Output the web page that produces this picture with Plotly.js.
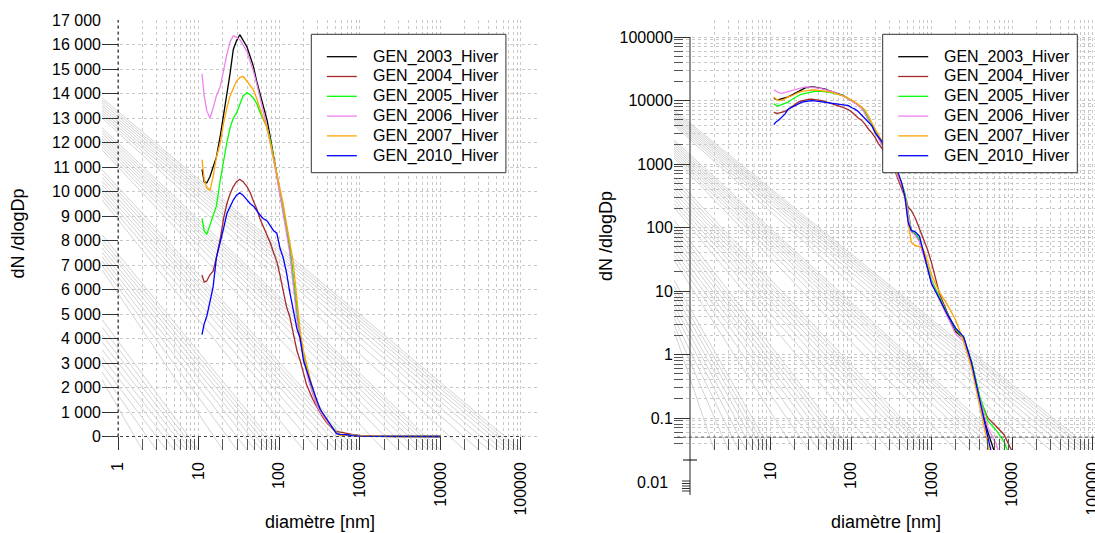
<!DOCTYPE html>
<html><head><meta charset="utf-8">
<script src="https://cdn.plot.ly/plotly-3.0.1.min.js"></script>
<style>html,body{margin:0;padding:0;background:#fff}#chart{width:1095px;height:533px}</style>
</head><body><div id="chart"></div>
<script>
// ---------- data ----------
const seriesNames = ['GEN_2003_Hiver','GEN_2004_Hiver','GEN_2005_Hiver','GEN_2006_Hiver','GEN_2007_Hiver','GEN_2010_Hiver'];
const seriesColors = ['#000000','#a52a2a','#00ff00','#ee82ee','#ffa500','#0000ff'];
const diameterNm = [11.0,11.7,12.6,13.8,15.1,16.6,18.6,20.4,22.4,24.5,26.9,29.5,32.4,35.5,39.8,43.7,47.9,52.5,57.5,63.1,70.8,77.6,85.1,93.3,102,112,123,135,148,166,182,200,219,240,263,295,324,355,389,427,468,513,562,631,708,794,891,1000,1259,1585,1995,2512,3162,3981,5012,6310,7943,10000];
const gen2003 = [10900,10400,10350,10600,11000,11400,12300,13100,13900,14800,15800,16150,16400,16200,15900,15500,15100,14500,14000,13500,12900,12200,11400,10700,10000,9200,8500,7700,6500,5000,4000,3300,2700,2200,1750,1300,1050,800,620,480,330,170,88,78,62,39,23,14,7.5,4.0,2.3,1.8,0.7,0.2,0.06,0.025,0.01,0.005];
const gen2004 = [6600,6300,6350,6600,6750,7300,8100,8900,9500,9900,10200,10400,10500,10400,10200,9950,9600,9300,8900,8600,8200,7900,7500,7150,6600,5900,5300,4900,4300,3500,3100,2600,2100,1800,1500,1200,950,750,560,420,300,210,185,140,95,65,45,28,9,4.5,2.4,1.8,0.75,0.2,0.1,0.075,0.055,0.03];
const gen2005 = [8900,8400,8250,8600,9000,9400,10500,11300,12000,12600,13000,13200,13600,13900,14030,13950,13800,13600,13250,12950,12600,12100,11400,10750,10000,9200,8500,7800,6600,5100,4100,3400,2800,2300,1800,1350,1080,820,640,500,340,170,90,80,65,40,24,15,8,4.3,2.5,1.8,0.75,0.22,0.09,0.065,0.043,0.02];
const gen2006 = [14800,13900,13300,13000,13400,13900,14300,15000,15600,16100,16350,16300,16200,16000,15700,15300,14900,14400,13900,13300,12600,12000,11300,10600,9900,9100,8300,7500,6300,4800,3900,3200,2600,2100,1700,1250,1000,780,600,460,320,160,85,75,60,37,22,14,7.2,3.8,2.1,1.6,0.65,0.2,0.07,0.04,0.015,0.006];
const gen2007 = [11300,10500,10150,10050,10600,11400,12000,12800,13400,13900,14200,14500,14650,14700,14500,14300,14150,13800,13400,13000,12600,12000,11400,10800,10200,9500,8700,8000,7200,5600,4300,3500,2900,2400,1900,1400,1100,850,650,500,300,120,58,52,50,45,30,18,9.5,6,3.5,1.6,0.6,0.15,0.04,0.01,0.004,0.002];
const gen2010 = [4160,4600,4900,5500,6100,7300,7900,8500,9100,9400,9650,9850,9950,9850,9650,9500,9400,9200,9050,8900,8800,8600,8400,8300,7700,7300,6700,5900,5200,4400,4000,3100,2700,2300,1900,1450,1100,900,700,500,300,120,90,85,73,40,22,13,7.5,4.2,2.6,1.9,0.72,0.18,0.05,0.014,0.006,0.003];
const allSeries = [gen2003, gen2004, gen2005, gen2006, gen2007, gen2010];

const xTickVals = [1,10,100,1000,10000,100000];
const xTickText = ['1','10','100','1000','10000','100000'];
const xTickValsRight = [10,100,1000,10000,100000];
const xTickTextRight = ['10','100','1000','10000','100000'];
const yLinTickVals = [0,1000,2000,3000,4000,5000,6000,7000,8000,9000,10000,11000,12000,13000,14000,15000,16000,17000];
const yLinTickText = ['0','1 000','2 000','3 000','4 000','5 000','6 000','7 000','8 000','9 000','10 000','11 000','12 000','13 000','14 000','15 000','16 000','17 000'];
const yLogTickVals = [0.1,1,10,100,1000,10000,100000];
const yLogTickText = ['0.1','1','10','100','1000','10000','100000'];

// grey diagonal lines: start height on the left border, end diameter on the bottom border
const grayLinStartY = [13820,13720,13620,13515,13415,13310,13210,13110,13005,12600,12490,12375,12260,12150,12040,11925,11815,11700,10890,10735,10580,10425,10275,10120,9970,9815,9660,8235,8055,7880,7700,7520,7345,7165,6985,6810,4770,4465,4160,3855,3545,3240,2935,2630,2325];
const grayLinEndX = [100000,90000,80000,70000,60000,50000,40000,30000,20000,10000,9000,8000,7000,6000,5000,4000,3000,2000,1000,900,800,700,600,500,400,300,200,100,90,80,70,60,50,40,30,20,10,9,8,7,6,5,4,3,2];
const grayLogStartY = [7080,6620,6180,5780,5400,5040,4710,4400,4110,2390,2200,2030,1870,1720,1590,1460,1350,1240,624,545,475,415,362,316,276,241,210,131,109,91,76,64,53,44,37,31,14.9,11.9,9.5,7.5,6.0,4.8,3.8,3.0,2.4];
const grayLogEndX = [100000,90000,80000,70000,60000,50000,40000,30000,20000,10000,9000,8000,7000,6000,5000,4000,3000,2000,1000,900,800,700,600,500,400,300,200,100,90,80,70,60,50,40,30,20,10,9,8,7,6,5,4,3,2];

// ---------- layout geometry ----------
const W = 1095, H = 533;
const FONT = 'Liberation Sans, Arial, Helvetica, sans-serif';
const yDom = [1 - 450/H, 1 - 20/H];
const ax1 = {type:'log', domain:[102/W, 537/W], range:[-0.2, 5.2]};
const ay1 = {type:'linear', domain:yDom, range:[-550, 17000]};
const ax2 = {type:'log', domain:[673.9/W, 1], range:[-0.2, 5.031]};
const ay2 = {type:'log', domain:yDom, range:[-1.504, 5.268]};

function minorLog(kmin, kmax){ const a=[]; for(let k=kmin;k<=kmax;k++){ for(let m=2;m<=9;m++){ a.push(m*Math.pow(10,k)); } } return a; }
function toPaper(ax, v){ const l = ax.type==='log' ? Math.log10(v) : v; return ax.domain[0] + (l-ax.range[0])/(ax.range[1]-ax.range[0])*(ax.domain[1]-ax.domain[0]); }

const gridCol = '#c8c8c8';
const tickCol = '#333333';
function xAxisCfg(ax, tv, tt, anchor){
  return Object.assign({}, ax, {anchor:anchor, tickmode:'array', tickvals:tv, ticktext:tt, tickangle:-90,
    ticks:'inside', ticklen:13, tickcolor:tickCol, tickwidth:1, showline:false, zeroline:false,
    showgrid:true, gridcolor:gridCol, griddash:'dot', gridwidth:1,
    tickfont:{family:FONT, size:16, color:'#000'}, ticklabelstandoff:8, ticklabeloverflow:'allow',
    minor:{tickmode:'array', tickvals:minorLog(0,4), ticks:'inside', ticklen:11, tickcolor:'#555', showgrid:true, gridcolor:gridCol, griddash:'dot', gridwidth:1},
    fixedrange:true});
}

// ---------- traces ----------
const traces = [];
function grayTrace(startY, endX, xa, ya, xax, yax){
  const xs=[], ys=[];
  const xLeft = Math.pow(10, xa.range[0]);
  const yBottom = ya.type==='log' ? Math.pow(10, ya.range[0]) : ya.range[0];
  for(let i=0;i<startY.length;i++){ xs.push(xLeft, endX[i], null); ys.push(startY[i], yBottom, null); }
  return {x:xs, y:ys, xaxis:xax, yaxis:yax, mode:'lines', line:{color:'#d3d3d3', width:1}, hoverinfo:'skip', showlegend:false};
}
traces.push(grayTrace(grayLinStartY, grayLinEndX, ax1, ay1, 'x', 'y'));
traces.push(grayTrace(grayLogStartY, grayLogEndX, ax2, ay2, 'x2', 'y2'));
for(let i=0;i<seriesNames.length;i++){
  traces.push({x:diameterNm, y:allSeries[i], name:seriesNames[i], xaxis:'x', yaxis:'y', mode:'lines',
    line:{color:seriesColors[i], width:1.3}, showlegend:false});
}
for(let i=0;i<seriesNames.length;i++){
  traces.push({x:diameterNm, y:allSeries[i], name:seriesNames[i], xaxis:'x2', yaxis:'y2', mode:'lines',
    line:{color:seriesColors[i], width:1.3}, showlegend:false});
}

// ---------- axis decorations (drawn at x=1 / y=0 like the original) ----------
const shapes = [];
function vline(ax, xv, y0p, y1p, dash, col){ const xp = toPaper(ax,xv); shapes.push({type:'line', xref:'paper', yref:'paper', x0:xp, x1:xp, y0:y0p, y1:y1p, line:{color:col, width:1, dash:dash}}); }
function hline(x0p, x1p, yp, dash, col, w){ shapes.push({type:'line', xref:'paper', yref:'paper', x0:x0p, x1:x1p, y0:yp, y1:yp, line:{color:col, width:w||1, dash:dash}}); }
// left panel
vline(ax1, 1, toPaper(ay1,0), toPaper(ay1,17000), 'dot', '#000');
hline(108/W, 523/W, toPaper(ay1,0), 'dot', '#444');
// right panel
vline(ax2, 1, 1-495/H, toPaper(ay2,100000), 'solid', '#222');
hline(677/W, 1, toPaper(ay2,0.05), 'dot', '#444');
hline(683/W, 697/W, 1-460/H, 'solid', '#000');
[481,483.5,486,488.5,491].forEach(function(py){ hline(682/W, 690/W, 1-py/H, 'solid', '#333'); });

const titleFont = {family:FONT, size:18, color:'#000'};
const annotations = [
  {text:'dN /dlogDp', xref:'paper', yref:'paper', x:17.5/W, y:1-234/H, xanchor:'center', yanchor:'middle', textangle:-90, showarrow:false, font:titleFont},
  {text:'dN /dlogDp', xref:'paper', yref:'paper', x:606/W, y:1-236/H, xanchor:'center', yanchor:'middle', textangle:-90, showarrow:false, font:titleFont},
  {text:'diamètre [nm]', xref:'paper', yref:'paper', x:320/W, y:1-522/H, xanchor:'center', yanchor:'middle', showarrow:false, font:titleFont},
  {text:'diamètre [nm]', xref:'paper', yref:'paper', x:886/W, y:1-522/H, xanchor:'center', yanchor:'middle', showarrow:false, font:titleFont},
  {text:'0.01', xref:'paper', yref:'paper', x:670/W, y:1-482/H, xanchor:'right', yanchor:'middle', showarrow:false, font:{family:FONT, size:16, color:'#000'}}
];

// ---------- legends (boxed, one per panel, as in the original) ----------
function addLegend(boxLeftPx){
  const top = 34.3, bottom = 172.7, width = 194.6;
  shapes.push({type:'rect', xref:'paper', yref:'paper', x0:boxLeftPx/W, x1:(boxLeftPx+width)/W, y0:1-bottom/H, y1:1-top/H,
    line:{color:'#333333', width:1}, fillcolor:'#ffffff', layer:'above'});
  for(let i=0;i<seriesNames.length;i++){
    const rowY = 56.7 + i*19.8;
    shapes.push({type:'line', xref:'paper', yref:'paper', x0:(boxLeftPx+15.5)/W, x1:(boxLeftPx+45.5)/W, y0:1-rowY/H, y1:1-rowY/H,
      line:{color:seriesColors[i], width:1.3}, layer:'above'});
    annotations.push({text:seriesNames[i], xref:'paper', yref:'paper', x:(boxLeftPx+59.5)/W, y:1-rowY/H, xanchor:'left', yanchor:'middle',
      showarrow:false, font:{family:FONT, size:16, color:'#000'}});
  }
}
addLegend(311.3);
addLegend(882.7);

const layout = {
  width:W, height:H, margin:{l:0, r:0, t:0, b:0}, paper_bgcolor:'#fff', plot_bgcolor:'#fff',
  font:{family:FONT, size:16, color:'#000'},
  xaxis: xAxisCfg(ax1, xTickVals, xTickText, 'y'),
  xaxis2: xAxisCfg(ax2, xTickValsRight, xTickTextRight, 'y2'),
  yaxis: Object.assign({}, ay1, {anchor:'x', tickmode:'array', tickvals:yLinTickVals, ticktext:yLinTickText,
    ticks:'inside', ticklen:16, tickcolor:tickCol, showline:false, zeroline:false,
    showgrid:true, gridcolor:gridCol, griddash:'dot', tickfont:{family:FONT, size:16, color:'#000'}, fixedrange:true}),
  yaxis2: Object.assign({}, ay2, {anchor:'x2', tickmode:'array', tickvals:yLogTickVals, ticktext:yLogTickText,
    ticks:'inside', ticklen:16, tickcolor:tickCol, showline:false, zeroline:false,
    showgrid:true, gridcolor:gridCol, griddash:'dot', tickfont:{family:FONT, size:16, color:'#000'},
    minor:{tickmode:'array', tickvals:minorLog(-2,5), ticks:'inside', ticklen:9, tickcolor:'#555', showgrid:true, gridcolor:gridCol, griddash:'dot'},
    fixedrange:true}),
  shapes: shapes,
  annotations: annotations,
  showlegend:false
};

Plotly.newPlot('chart', traces, layout, {staticPlot:true, displayModeBar:false});
</script>
</body></html>
